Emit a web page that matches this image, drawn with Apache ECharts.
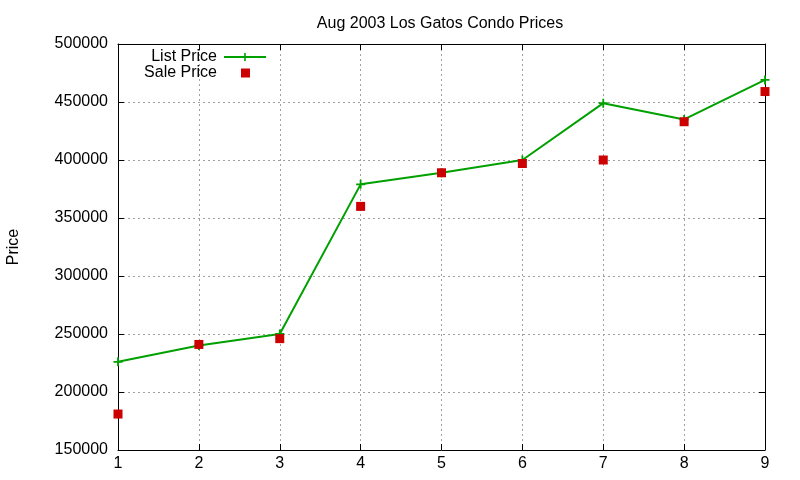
<!DOCTYPE html>
<html>
<head>
<meta charset="utf-8">
<script src="https://cdn.jsdelivr.net/npm/echarts@6/dist/echarts.min.js"></script>
<style>
  html, body { margin: 0; padding: 0; background: #fff; }
  #chart { width: 800px; height: 480px; }
</style>
</head>
<body>
<div id="chart"></div>
<script>
// listing numbers, 1..9
var listings = [1, 2, 3, 4, 5, 6, 7, 8, 9];
var listPrice = [226000, 240000, 250000, 379000, 389000, 400000, 449000, 435000, 469000];
var salePrice = [181000, 241000, 246000, 360000, 389000, 397000, 400000, 433000, 459000];

var font = 'Liberation Sans, Arial, sans-serif';
var green = '#00a000';
var red = '#cc0000';
var plus = 'path://M4,0H6V4H10V6H6V10H4V6H0V4H4Z';

var myChart = echarts.init(document.getElementById('chart'));

var tickStyle = { show: true, inside: true, length: 6, lineStyle: { color: '#000' } };
var gridLine = { show: true, lineStyle: { color: '#a0a0a0', type: [2, 3], width: 1 } };

option = {
    animation: false,
    backgroundColor: '#fff',
    textStyle: { fontFamily: font },
    title: {
        text: 'Aug 2003 Los Gatos Condo Prices',
        left: 435,
        top: 11,
        textAlign: 'center',
        textStyle: { fontSize: 16, fontWeight: 'normal', color: '#000', fontFamily: font }
    },
    legend: [
        {
            data: ['List Price'],
            right: 533, top: 49,
            align: 'right',
            itemWidth: 42, itemHeight: 10,
            padding: 0,
            textStyle: { fontSize: 16, lineHeight: 16, color: '#000', fontFamily: font, padding: [0, 2, 0, 0] }
        },
        {
            data: ['Sale Price'],
            right: 550, top: 65,
            align: 'right',
            itemWidth: 9, itemHeight: 9,
            padding: 0,
            textStyle: { fontSize: 16, lineHeight: 16, color: '#000', fontFamily: font, padding: [0, 19, 0, 0] }
        }
    ],
    grid: { left: 118, right: 35, top: 44, bottom: 30, containLabel: false, outerBoundsMode: 'none' },
    xAxis: [
        {
            type: 'value', min: 1, max: 9, interval: 1,
            axisLine: { show: true, lineStyle: { color: '#000' } },
            axisTick: tickStyle,
            axisLabel: { fontSize: 16, color: '#000', margin: 6, fontFamily: font },
            splitLine: gridLine
        },
        {
            type: 'value', position: 'top', min: 1, max: 9, interval: 1,
            axisLine: { show: true, lineStyle: { color: '#000' } },
            axisTick: tickStyle,
            axisLabel: { show: false },
            splitLine: { show: false }
        }
    ],
    yAxis: [
        {
            type: 'value', min: 150000, max: 500000, interval: 50000,
            name: 'Price', nameLocation: 'middle', nameRotate: 90, nameGap: 96,
            nameTextStyle: { fontSize: 16, color: '#000', fontFamily: font },
            axisLine: { show: true, lineStyle: { color: '#000' } },
            axisTick: tickStyle,
            axisLabel: {
                fontSize: 16, color: '#000', margin: 10, fontFamily: font,
                formatter: function (v) { return String(v); }
            },
            splitLine: gridLine
        },
        {
            type: 'value', position: 'right', min: 150000, max: 500000, interval: 50000,
            axisLine: { show: true, lineStyle: { color: '#000' } },
            axisTick: tickStyle,
            axisLabel: { show: false },
            splitLine: { show: false }
        }
    ],
    series: [
        {
            name: 'List Price',
            type: 'line',
            data: listings.map(function (x, i) { return [x, listPrice[i]]; }),
            symbol: plus,
            symbolSize: 9,
            showAllSymbol: true,
            lineStyle: { color: green, width: 2 },
            itemStyle: { color: green },
            z: 3
        },
        {
            name: 'Sale Price',
            type: 'scatter',
            data: listings.map(function (x, i) { return [x, salePrice[i]]; }),
            symbol: 'rect',
            symbolSize: 9,
            itemStyle: { color: red, opacity: 1 },
            z: 4
        }
    ]
};

myChart.setOption(option);
</script>
</body>
</html>
